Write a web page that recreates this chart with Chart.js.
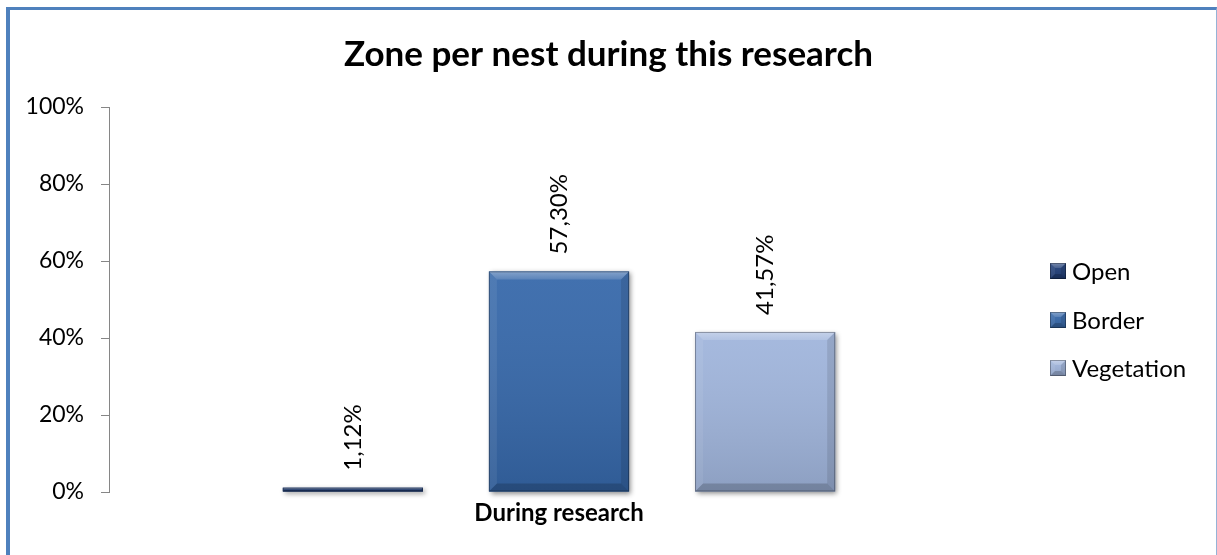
<!DOCTYPE html>
<html>
<head>
<meta charset="utf-8">
<script src="https://cdn.jsdelivr.net/npm/chart.js@4/dist/chart.umd.min.js"></script>
<style>
  html, body { margin: 0; padding: 0; background: #fff; }
  #wrap { position: relative; width: 1217px; height: 555px; overflow: hidden; }
  #chart { position: absolute; left: 0; top: 0; }
  #frame {
    position: absolute; left: 6px; top: 7px; width: 1206px; height: 600px;
    border-top: 3px solid #4F81BD; border-left: 4px solid #4F81BD; border-right: 1px solid #95B3D7;
    pointer-events: none;
  }
</style>
</head>
<body>
<div id="wrap">
  <canvas id="chart" width="1217" height="555"></canvas>
  <div id="frame"></div>
</div>
<script>
// Chart data
const categories = ['During research'];
const seriesNames = ['Open', 'Border', 'Vegetation'];
const seriesValues = [1.12, 57.30, 41.57];
const yTickValues = [0, 20, 40, 60, 80, 100];

const seriesColors = ['#203E78', '#3668AA', '#A0B5DC'];
const FONT = "Lato, 'Open Sans', sans-serif";

const fmtPct = v => v.toFixed(2).replace('.', ',') + '%';

// soft drop shadow under each bar
const shadowPlugin = {
  id: 'barShadow',
  beforeDatasetsDraw(chart) {
    const ctx = chart.ctx;
    chart.data.datasets.forEach((ds, i) => {
      chart.getDatasetMeta(i).data.forEach(bar => {
        const p = bar.getProps(['x', 'y', 'base', 'width'], true);
        const l = p.x - p.width / 2, t = Math.min(p.y, p.base), h = Math.abs(p.base - p.y);
        ctx.save();
        ctx.shadowColor = 'rgba(0,0,0,0.45)';
        ctx.shadowBlur = 5;
        ctx.shadowOffsetX = 2;
        ctx.shadowOffsetY = 2;
        ctx.fillStyle = ds.backgroundColor;
        ctx.fillRect(l, t, p.width, h);
        ctx.restore();
      });
    });
  }
};

// bevel shading drawn over a rectangle
function bevel(ctx, l, t, w, h, b) {
  b = Math.min(b, h / 2, w / 2);
  const r = l + w, btm = t + h;
  const g = ctx.createLinearGradient(0, t, 0, btm);
  g.addColorStop(0, 'rgba(255,255,255,0.06)');
  g.addColorStop(1, 'rgba(0,0,0,0.12)');
  ctx.fillStyle = g;
  ctx.fillRect(l, t, w, h);
  const poly = (pts, fill) => {
    ctx.beginPath();
    ctx.moveTo(pts[0][0], pts[0][1]);
    for (let k = 1; k < pts.length; k++) ctx.lineTo(pts[k][0], pts[k][1]);
    ctx.closePath();
    ctx.fillStyle = fill;
    ctx.fill();
  };
  const tg = ctx.createLinearGradient(0, t, 0, t + b);
  tg.addColorStop(0, 'rgba(255,255,255,0.35)');
  tg.addColorStop(1, 'rgba(255,255,255,0.14)');
  poly([[l, t], [r, t], [r - b, t + b], [l + b, t + b]], tg);
  poly([[l, t], [l + b, t + b], [l + b, btm - b], [l, btm]], 'rgba(255,255,255,0.07)');
  poly([[r, t], [r, btm], [r - b, btm - b], [r - b, t + b]], 'rgba(0,0,0,0.10)');
  poly([[l, btm], [l + b, btm - b], [r - b, btm - b], [r, btm]], 'rgba(0,0,0,0.18)');
  ctx.strokeStyle = 'rgba(0,0,0,0.30)';
  ctx.lineWidth = 1;
  ctx.strokeRect(l + 0.5, t + 0.5, w - 1, h - 1);
}

const bevelPlugin = {
  id: 'barBevel',
  afterDatasetsDraw(chart) {
    const ctx = chart.ctx;
    chart.data.datasets.forEach((ds, i) => {
      chart.getDatasetMeta(i).data.forEach(bar => {
        const p = bar.getProps(['x', 'y', 'base', 'width'], true);
        const l = p.x - p.width / 2, t = Math.min(p.y, p.base), h = Math.abs(p.base - p.y);
        ctx.save();
        bevel(ctx, l, t, p.width, h, 8);
        ctx.restore();
      });
    });
  }
};

// rotated value labels above each bar
const valueLabelPlugin = {
  id: 'valueLabels',
  afterDatasetsDraw(chart) {
    const ctx = chart.ctx;
    chart.data.datasets.forEach((ds, i) => {
      chart.getDatasetMeta(i).data.forEach((bar, j) => {
        const p = bar.getProps(['x', 'y'], true);
        ctx.save();
        ctx.translate(p.x, p.y - 17);
        ctx.rotate(-Math.PI / 2);
        ctx.font = `24px ${FONT}`;
        ctx.fillStyle = '#000';
        ctx.textAlign = 'left';
        ctx.textBaseline = 'middle';
        ctx.fillText(fmtPct(ds.data[j]), 0, 0);
        ctx.restore();
      });
    });
  }
};

// legend on the right with bevelled swatches
const sideLegendPlugin = {
  id: 'sideLegend',
  afterDraw(chart) {
    const ctx = chart.ctx;
    const x0 = 1050, rows = [271, 320, 368], s = 16;
    chart.data.datasets.forEach((ds, i) => {
      const cy = rows[i];
      ctx.save();
      ctx.fillStyle = ds.backgroundColor;
      ctx.fillRect(x0, cy - s / 2, s, s);
      bevel(ctx, x0, cy - s / 2, s, s, 5);
      ctx.fillStyle = '#000';
      ctx.font = `24px ${FONT}`;
      ctx.textAlign = 'left';
      ctx.textBaseline = 'middle';
      ctx.fillText(ds.label, x0 + 22, cy + 1);
      ctx.restore();
    });
  }
};

const whiteBg = {
  id: 'whiteBg',
  beforeDraw(chart) {
    const ctx = chart.ctx;
    ctx.save();
    ctx.fillStyle = '#fff';
    ctx.fillRect(0, 0, chart.width, chart.height);
    ctx.restore();
  }
};

const datasets = seriesNames.map((name, i) => ({
  label: name,
  data: [seriesValues[i]],
  backgroundColor: seriesColors[i],
  borderWidth: 0,
  categoryPercentage: 0.687,
  barPercentage: 0.68
}));

new Chart(document.getElementById('chart'), {
  type: 'bar',
  data: { labels: categories, datasets },
  plugins: [whiteBg, shadowPlugin, bevelPlugin, valueLabelPlugin, sideLegendPlugin],
  options: {
    responsive: false,
    animation: false,
    layout: { padding: 0 },
    plugins: {
      legend: { display: false },
      tooltip: { enabled: false },
      title: {
        display: true,
        text: 'Zone per nest during this research',
        color: '#000',
        font: { family: FONT, size: 35, weight: 'bold', lineHeight: 1.2 },
        padding: { top: 34, bottom: 31 }
      }
    },
    scales: {
      x: {
        grid: { display: false, drawTicks: false },
        border: { display: false },
        ticks: {
          color: '#000',
          font: { family: FONT, size: 24, weight: 'bold' },
          padding: 7
        },
        afterFit(scale) { scale.height = 63; }
      },
      y: {
        min: 0,
        max: 100,
        afterBuildTicks(scale) { scale.ticks = yTickValues.map(v => ({ value: v })); },
        grid: { drawOnChartArea: false, drawTicks: true, tickLength: 8, color: '#868686' },
        border: { display: true, color: '#868686', width: 1 },
        ticks: {
          color: '#000',
          font: { family: FONT, size: 23 },
          padding: 17,
          callback: v => v + '%'
        },
        afterFit(scale) { scale.width = 109; }
      },
      // empty right-hand axis reserving room for the legend column
      side: {
        type: 'linear',
        position: 'right',
        min: 0,
        max: 100,
        grid: { display: false, drawTicks: false },
        border: { display: false },
        ticks: { display: false },
        afterFit(scale) { scale.width = 208; }
      }
    }
  }
});
</script>
</body>
</html>
